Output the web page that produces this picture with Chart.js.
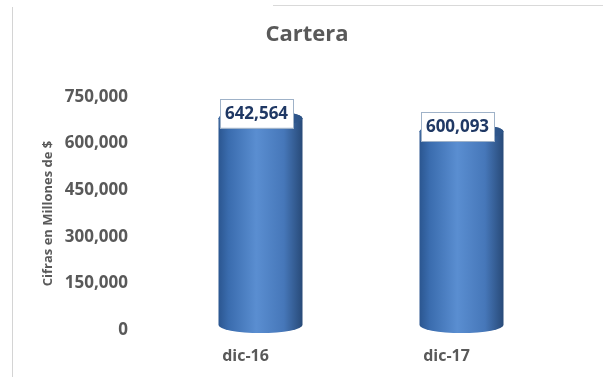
<!DOCTYPE html>
<html>
<head>
<meta charset="utf-8">
<script src="https://cdn.jsdelivr.net/npm/chart.js@4.4.0/dist/chart.umd.min.js"></script>
<style>
  html, body { margin: 0; padding: 0; background: #fff; }
  #wrap { position: relative; width: 603px; height: 377px; }
  .frame-top { position: absolute; left: 273px; top: 5px; width: 330px; height: 1px; background: #d9d9d9; }
  .frame-left { position: absolute; left: 12px; top: 7px; width: 1px; height: 370px; background: #d4d4d4; }
</style>
</head>
<body>
<div id="wrap">
  <canvas id="carteraChart" width="603" height="377"></canvas>
  <div class="frame-top"></div>
  <div class="frame-left"></div>
</div>
<script>
const periods = ['dic-16', 'dic-17'];
const cartera = [642564, 600093];
const yTicks = [0, 150000, 300000, 450000, 600000, 750000];

const fmt = v => v.toLocaleString('en-US');

// paints each bar as a shaded cylinder with a boxed value on top
const cylinderPlugin = {
    id: 'cylinders',
    afterDatasetsDraw(chart) {
        const ctx = chart.ctx;
        const meta = chart.getDatasetMeta(0);
        meta.data.forEach((bar, i) => {
            const { x, y, base, width } = bar.getProps(['x', 'y', 'base', 'width'], true);
            const left = x - width / 2;
            const rx = width / 2, ry = 8;
            const top = y - 12, bottom = base - 5;

            ctx.save();
            const body = ctx.createLinearGradient(left, 0, left + width, 0);
            body.addColorStop(0, '#2b5690');
            body.addColorStop(0.12, '#3a6cae');
            body.addColorStop(0.45, '#5a8ed1');
            body.addColorStop(0.78, '#4677b9');
            body.addColorStop(1, '#284a78');
            ctx.beginPath();
            ctx.moveTo(left, top);
            ctx.lineTo(left, bottom);
            ctx.ellipse(x, bottom, rx, ry, 0, Math.PI, 0, true);
            ctx.lineTo(left + width, top);
            ctx.ellipse(x, top, rx, ry, 0, 0, Math.PI, true);
            ctx.closePath();
            ctx.fillStyle = body;
            ctx.fill();

            const cap = ctx.createLinearGradient(left, 0, left + width, 0);
            cap.addColorStop(0, '#2f5d99');
            cap.addColorStop(0.5, '#3d6aa8');
            cap.addColorStop(1, '#2c5285');
            ctx.beginPath();
            ctx.ellipse(x, top, rx, ry, 0, 0, Math.PI * 2);
            ctx.fillStyle = cap;
            ctx.fill();

            // value label
            const text = fmt(cartera[i]);
            ctx.font = 'bold 17px "Open Sans"';
            const tw = ctx.measureText(text).width;
            const bw = tw + 10, bh = 29;
            const cx = x - 4, cy = y - 17;
            ctx.fillStyle = '#ffffff';
            ctx.fillRect(cx - bw / 2, cy - bh / 2, bw, bh);
            ctx.strokeStyle = '#9fb2c8';
            ctx.lineWidth = 1;
            ctx.strokeRect(Math.round(cx - bw / 2) + 0.5, Math.round(cy - bh / 2) + 0.5, Math.round(bw), bh);
            ctx.fillStyle = '#1f3864';
            ctx.textAlign = 'center';
            ctx.textBaseline = 'middle';
            ctx.fillText(text, cx, cy + 1);
            ctx.restore();
        });
    }
};

const chart = new Chart(document.getElementById('carteraChart'), {
    type: 'bar',
    data: {
        labels: periods,
        datasets: [{
            label: 'Cartera',
            data: cartera,
            backgroundColor: 'rgba(0,0,0,0)',
            barThickness: 84
        }]
    },
    options: {
        responsive: false,
        animation: false,
        layout: {
            padding: { left: 52, right: 41, top: 0, bottom: 0 }
        },
        plugins: {
            legend: { display: false },
            tooltip: { enabled: false },
            title: {
                display: true,
                text: 'Cartera',
                color: '#595959',
                font: { family: 'Open Sans', size: 22, weight: 'bold' },
                padding: { top: 22, bottom: 48.6 }
            }
        },
        scales: {
            x: {
                grid: { display: false, drawTicks: false },
                border: { display: false },
                afterFit: axis => {
                    axis.height = 47;
                },
                ticks: {
                    color: '#595959',
                    font: { family: 'Open Sans', size: 16, weight: 'bold' },
                    padding: 17,
                    labelOffset: -15
                }
            },
            y: {
                min: 0,
                max: 750000,
                grid: { display: false, drawTicks: false },
                border: { display: false },
                afterBuildTicks: axis => {
                    axis.ticks = yTicks.map(v => ({ value: v }));
                },
                afterFit: axis => {
                    axis.width = 108;
                },
                ticks: {
                    color: '#595959',
                    font: { family: 'Open Sans', size: 17, weight: 'bold' },
                    padding: 32,
                    callback: v => fmt(v)
                },
                title: {
                    display: true,
                    text: 'Cifras en Millones de $',
                    color: '#595959',
                    font: { family: 'Open Sans', size: 13, weight: 'bold' },
                    padding: { top: -12, bottom: 0 }
                }
            }
        }
    },
    plugins: [cylinderPlugin]
});
</script>
</body>
</html>
